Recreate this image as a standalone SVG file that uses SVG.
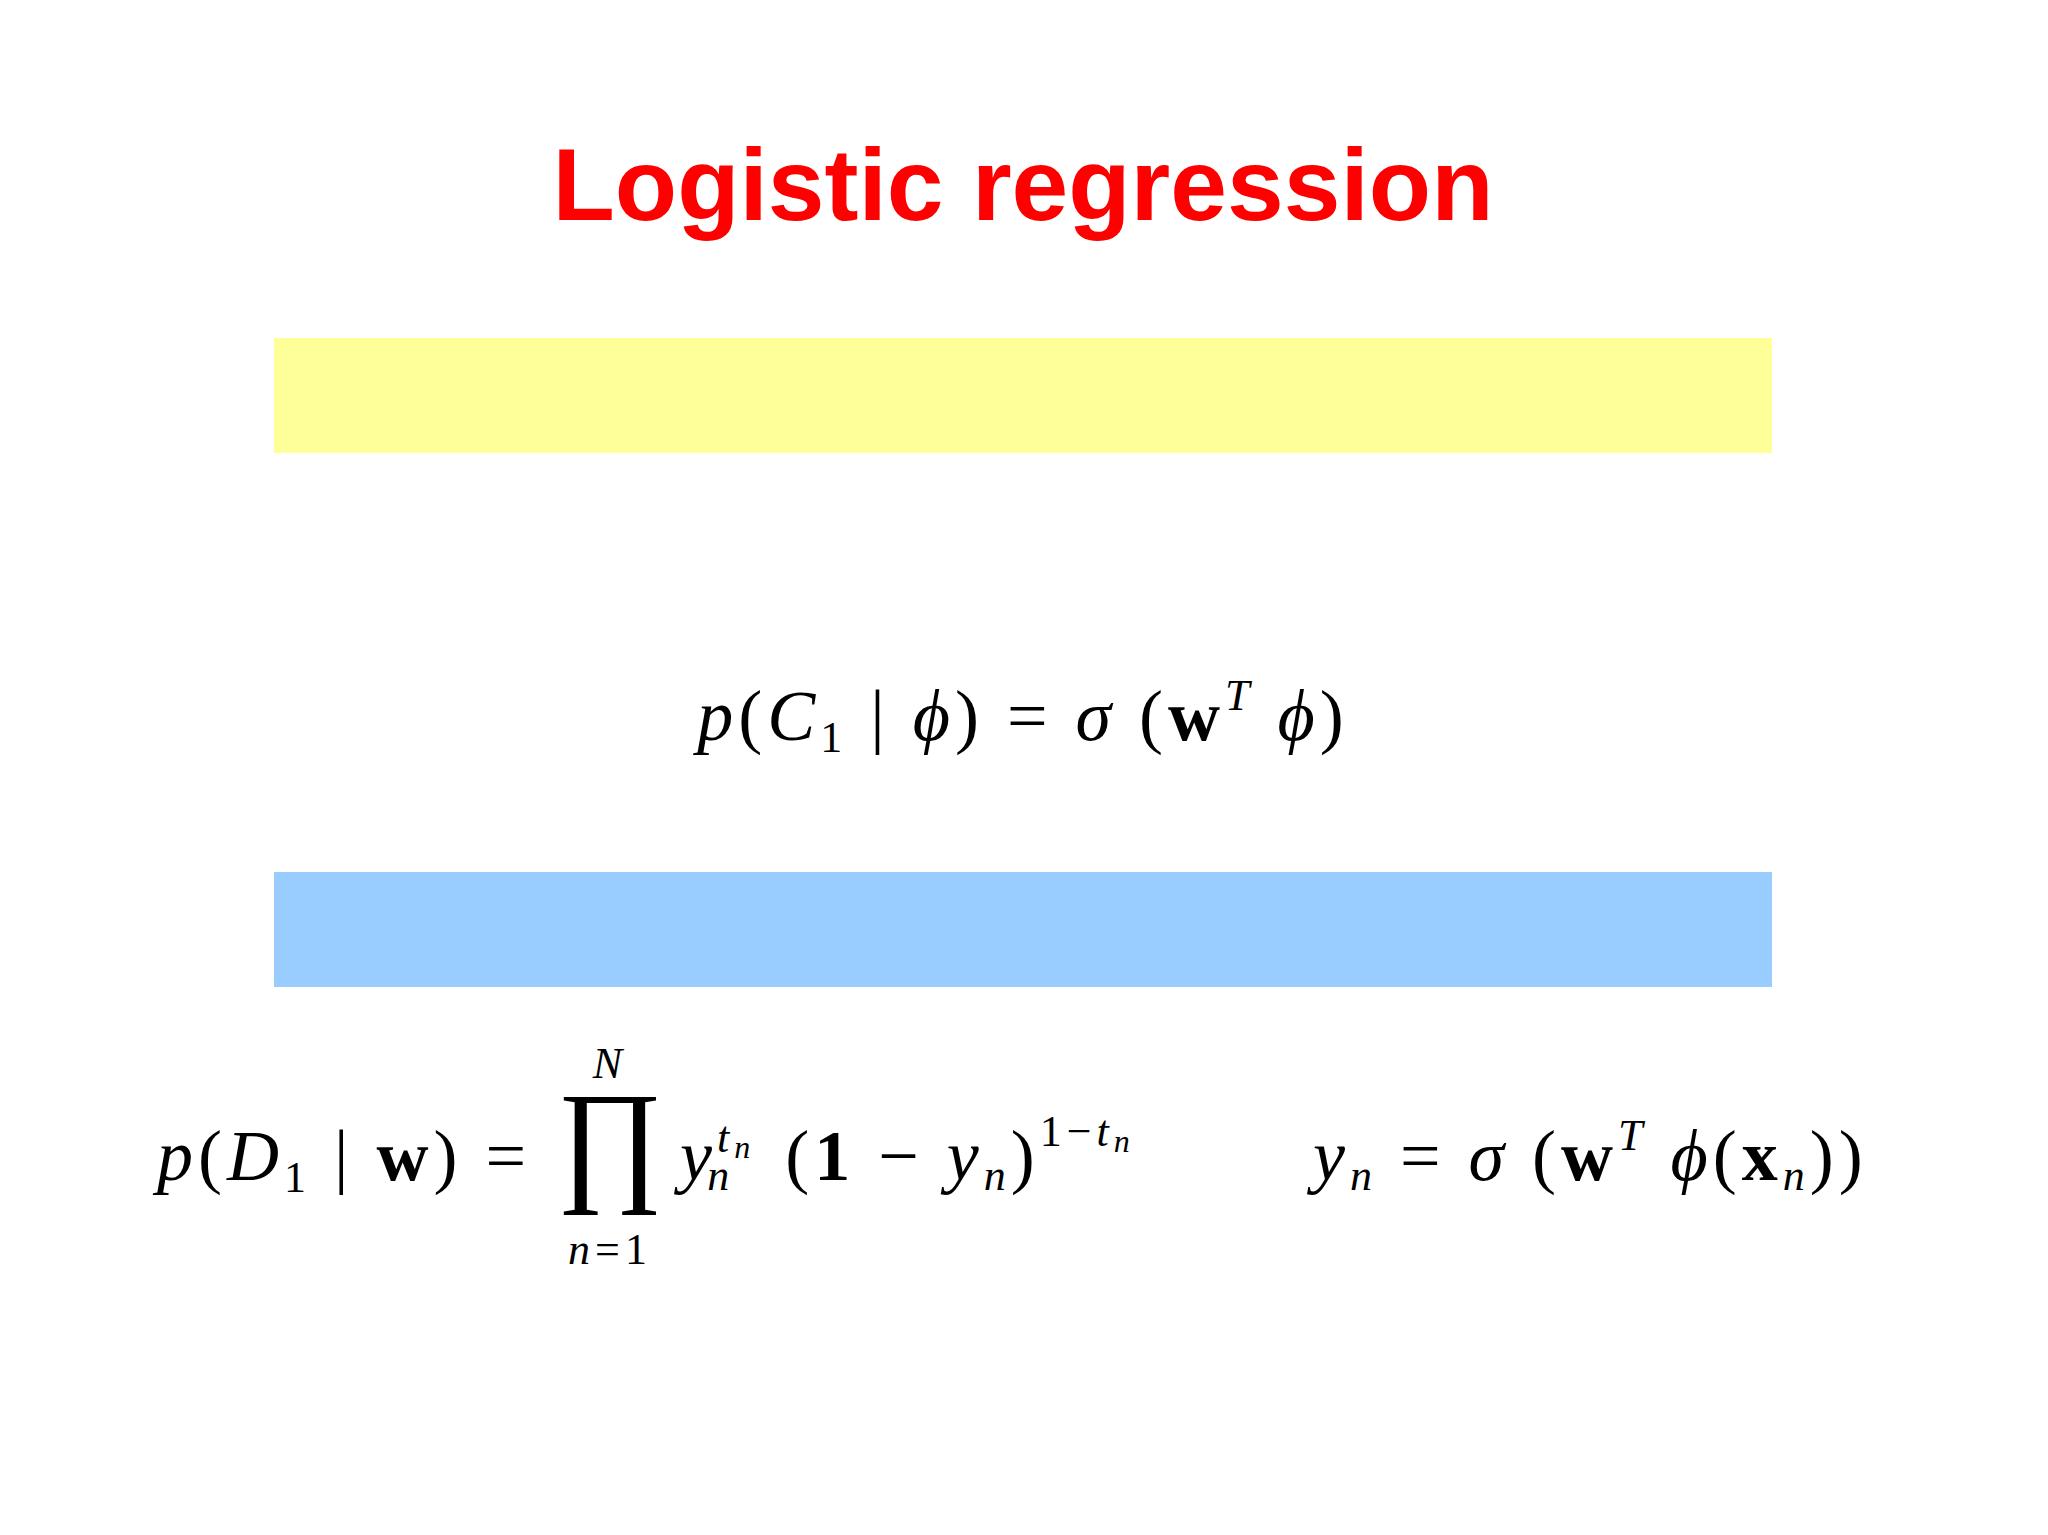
<svg xmlns="http://www.w3.org/2000/svg" width="2048" height="1535" viewBox="0 0 2048 1535">
<style>
.m{font-family:"Liberation Serif",serif;font-size:72px;fill:#000;letter-spacing:5px}
.i{font-style:italic}
.b{font-weight:bold}
.s{font-size:44px}
</style>
<rect width="2048" height="1535" fill="#fff"/>
<g id="title"><text x="1023" y="220" text-anchor="middle" font-family="Liberation Sans,Arial,sans-serif" font-weight="bold" font-size="102" fill="#f00">Logistic regression</text></g>
<g id="yellow"><rect x="274" y="338" width="1498" height="115" fill="#ffff99"/></g>
<g id="blue"><rect x="274" y="872" width="1498" height="115" fill="#99ccff"/></g>
<g id="eq1"><text class="m" x="1023" y="740" text-anchor="middle"><tspan class="i">p</tspan>(<tspan class="i">C</tspan><tspan class="s" dy="12">1</tspan><tspan dy="-12">  |  </tspan><tspan class="i">ϕ</tspan>)  =  <tspan class="i">σ</tspan> (<tspan class="b">w</tspan><tspan class="s i" dy="-30">T</tspan><tspan class="i" dy="30"> ϕ</tspan>)</text></g>
<g id="eq2">
<text class="m" x="157" y="1180"><tspan class="i">p</tspan>(<tspan class="i">D</tspan><tspan class="s" dy="12">1</tspan><tspan dy="-12">  |  </tspan><tspan class="b">w</tspan>)  =</text>
<text x="610" y="1186" text-anchor="middle" font-family="Liberation Serif,serif" font-size="136" transform="translate(610 1186) scale(0.95 1) translate(-610 -1186)">∏</text>
<text class="m s i" x="610" y="1078" text-anchor="middle">N</text>
<text class="m s" x="610" y="1264" text-anchor="middle"><tspan class="i">n</tspan>=1</text>
<text class="m" x="680" y="1180"><tspan class="i">y</tspan><tspan class="s i" dy="-28">t</tspan><tspan class="i" font-size="32" dy="6">n</tspan><tspan class="s i" dx="-48" dy="32">n</tspan><tspan dx="28" dy="-10"> (</tspan><tspan class="b">1</tspan>  −  <tspan class="i">y</tspan><tspan class="s i" dy="10">n</tspan><tspan dy="-10">)</tspan><tspan class="s" dy="-34">1−</tspan><tspan class="s i">t</tspan><tspan class="i" font-size="32" dy="6">n</tspan></text>
</g>
<g id="eq3"><text class="m" x="1313" y="1180"><tspan class="i">y</tspan><tspan class="s i" dy="10">n</tspan><tspan dy="-10">  =  </tspan><tspan class="i">σ</tspan> (<tspan class="b">w</tspan><tspan class="s i" dy="-30">T</tspan><tspan class="i" dy="30"> ϕ</tspan>(<tspan class="b">x</tspan><tspan class="s i" dy="10">n</tspan><tspan dy="-10">))</tspan></text></g>
</svg>
